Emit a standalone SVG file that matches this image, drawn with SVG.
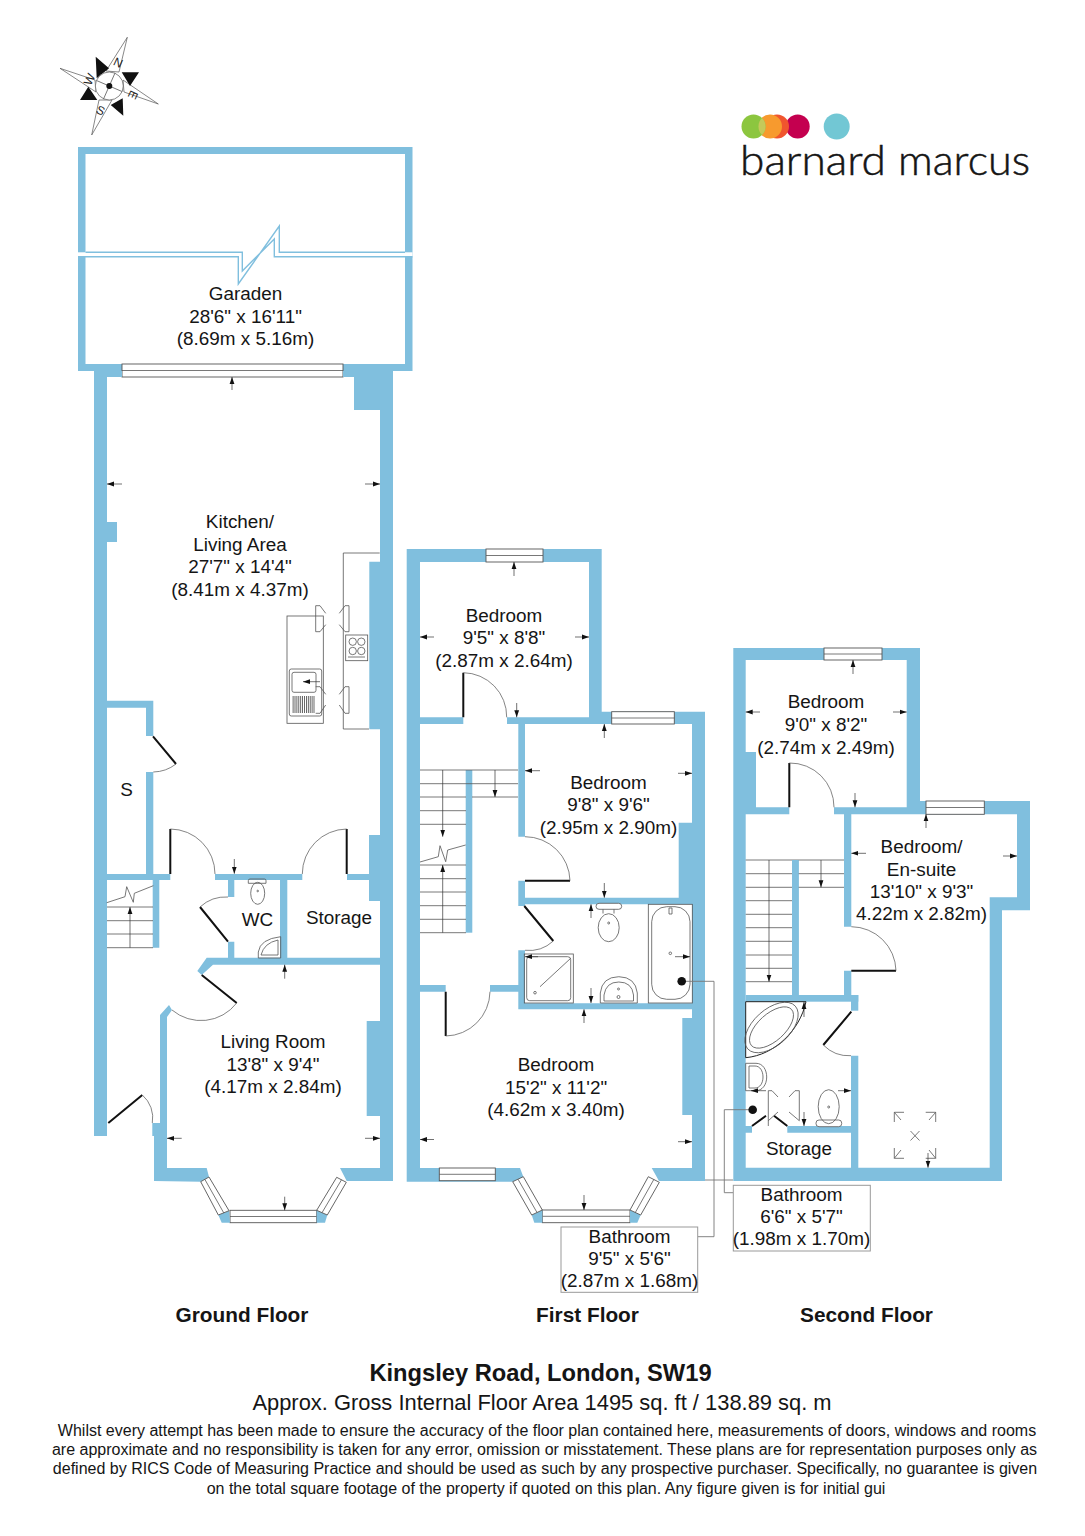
<svg xmlns="http://www.w3.org/2000/svg" width="1085" height="1536" viewBox="0 0 1085 1536">
<style>
.w{fill:#80bfde;stroke:none}
.b{fill:#fff;stroke:none}
.z{fill:none;stroke:#80bfde;stroke-width:1.4}
.win{fill:#fff;stroke:#555;stroke-width:.9}
.d{fill:none;stroke:#111;stroke-width:2}
.arc{fill:none;stroke:#666;stroke-width:.8}
.l{fill:none;stroke:#555;stroke-width:.8}
.lg{fill:none;stroke:#777;stroke-width:.9}
.fx{fill:#fff;stroke:#555;stroke-width:.8}
.a path{fill:none;stroke:#333;stroke-width:.7;marker-end:url(#ah)}
text{font-family:"Liberation Sans",Arial,sans-serif;fill:#151515;text-anchor:middle}
.t{font-size:18.9px}
.h{font-size:20.8px;font-weight:bold}
.f{font-size:16px}
.c{font-size:12px;fill:#222}
.lo{font-family:Lato,"Liberation Sans",sans-serif;font-size:41px;font-weight:300;stroke:#151515;stroke-width:.5;text-anchor:start}
</style>
<defs>
<marker id="ah" markerUnits="userSpaceOnUse" markerWidth="8" markerHeight="6" refX="7" refY="3" orient="auto"><path d="M0,0.6L7,3L0,5.4z" fill="#111"/></marker>
</defs>
<g id="compass">
<path d="M127.3,37.3L119,72L106,71zM158.3,104L124,92L123,80zM91.700,135L99,100L112,100zM60,68.300L95,80L96,92z" fill="#fff" stroke="#555" stroke-width=".7"/>
<path d="M95.700,56.700L109,68.300L96.700,78.300zM139,72.300L121.700,72.300L130,86zM123.300,115.700L110.700,105L122.700,98.300zM80,100L97.300,100L88.300,86.700z" fill="#111"/>
<circle cx="109.300" cy="86" r="14" fill="#fff" stroke="#555" stroke-width=".7"/>
<path d="M115,73L103.500,99M96.500,80.500L122,91.500" class="l"/>
<circle cx="109.300" cy="86" r="3" fill="#111"/>
<text class="c" transform="translate(118.300,62.300) rotate(25)" y="4.500">N</text>
<text class="c" transform="translate(133.300,95) rotate(115)" y="4.500">E</text>
<text class="c" transform="translate(100.700,110) rotate(25)" y="4.500">S</text>
<text class="c" transform="translate(89,79.300) rotate(295)" y="4.500">W</text>
</g>
<g id="logo">
<circle cx="797.700" cy="126.500" r="12" fill="#c4004f"/>
<circle cx="777" cy="126.500" r="12" fill="#f0552e"/>
<circle cx="770" cy="126.500" r="12" fill="#f79a2e"/>
<circle cx="753.500" cy="126.500" r="12" fill="#8cc63f"/>
<path d="M762,118a12,12 0 0 1 0,17a12,12 0 0 1 0,-17z" fill="#c5c95a"/>
<circle cx="836.700" cy="126.500" r="13" fill="#72c7d4"/>
<text class="lo" x="740" y="175" textLength="146" lengthAdjust="spacingAndGlyphs">barnard</text>
<text class="lo" x="898" y="175" textLength="132" lengthAdjust="spacingAndGlyphs">marcus</text>
</g>
<g id="garden">
<rect class="w" x="78" y="147" width="334.500" height="224"/>
<rect class="b" x="85.500" y="154" width="319.500" height="210"/>
<rect class="b" x="78" y="252.300" width="334.500" height="4.400"/>
<path class="z" d="M85.500,252.300H242.300V271L274.300,239V256.700H412.500M78,256.700H238.300V284L279.300,226V252.300H405"/>
<rect class="win" x="122" y="364" width="221" height="13"/><path class="l" d="M122,370.500H343"/>
</g>
<g id="ground-floor">
<path class="w" d="M94,371H122V377H107V522H117V542H107V1136H94z"/>
<path class="w" d="M343,371H393V1181H346.700L340,1168H380V1116H366.700V1021H380V964.700H213L201.700,975L197.300,971L206.700,957.700H228V941.700H234.300V957.700H280V880H234.300V897H228V880H215V874H302.300V880H287.300V957.700H380V901H369V880H347V874H369V835H380V729.300H369.300V561.700H380V410H354V377H343z"/>
<path class="w" d="M107,700.700H153.300V736H146V707.700H107zM146,772H153.300V874H170.300V880H159.300V947.700H152.700V880H107V874H146z"/>
<path class="w" d="M160,1015L169,1005L172,1010L167,1017V1168H206.700L209,1177L200.700,1181.700L154,1181V1136H152.300V1123H160z"/>
<rect class="win" x="230" y="1210.300" width="86.700" height="12.400"/><path class="l" d="M230,1216.500H316.700"/>
<polygon class="w" points="218.300,1215 229,1210.700 230,1222.700 221.700,1222.700"/>
<polygon class="w" points="316.700,1210.300 327.300,1215 325,1222.700 316.700,1222.700"/>
<polygon class="win" points="200.700,1181.700 209,1177 229,1210.700 218.300,1215"/><path class="l" d="M204.800,1179.300L223.700,1212.800"/>
<polygon class="win" points="336.700,1177.300 346.300,1182.300 327.300,1215 316.700,1210.300"/><path class="l" d="M341.500,1179.800L322,1212.700"/>
<path class="d" d="M170.300,829V874M346.700,829V874M108.300,1123L142.300,1095M200,907L228,941.700M201.700,975L236.700,1003M153,736.300L176,764"/>
<path class="arc" d="M170.300,829A45,45 0 0 1 215,874M346.700,829A45,45 0 0 0 302.300,874M200,907A38,38 0 0 1 228,897M236.700,1003A45,45 0 0 1 172,1010M142.300,1095A30,30 0 0 1 152.300,1123M176,764A38,38 0 0 1 153.300,772"/>
<path class="l" d="M107,907H153M107,920.700H153M107,934H153M107,947.700H153M106.700,902.700L125,896.700L126.700,886.700L133.300,902.300L134.300,893.300L153.300,885.700"/>
<path class="l" d="M343.300,729V553H379.700M343.300,729H369"/>
<rect class="l" x="287" y="616" width="36.300" height="107.300"/>
<rect class="fx" x="289.300" y="669" width="32.400" height="47" rx="2"/>
<rect class="l" x="292" y="672.300" width="24" height="20" rx="2"/>
<path stroke="#444" stroke-width="17" stroke-dasharray="0.800 1.100" fill="none" d="M292.700,704.600H315"/>
<path class="l" d="M315.700,605.700V631.700M315.700,605.700H320L325.700,613.300M315.700,631.700H320L325.700,624.700M349,605.700V631.700M349,605.700H345L339.300,613.300M349,631.700H345L339.300,624.700M315.700,686.700H320L325.700,694.300M315.700,713.300H320L325.700,705M349,686.700V713.300M349,686.700H345L339.300,694.300M349,713.300H345L339.300,705"/>
<rect class="fx" x="345.700" y="635" width="22" height="25.700"/>
<g class="l"><circle cx="352.700" cy="641.700" r="3.700"/><circle cx="361.300" cy="641.700" r="3.700"/><circle cx="352.700" cy="651" r="3.700"/><circle cx="361.300" cy="651" r="3.700"/><path d="M348,657H365"/></g>
<path class="l" d="M248.300,880.700Q248.300,879 250,879H264.500Q266,879 266,880.700V883.300H248.300z"/><ellipse class="l" cx="257.700" cy="893.300" rx="7" ry="11"/><circle class="l" cx="257.700" cy="891" r=".8"/>
<path class="l" d="M258.300,958V952Q260,939 280.700,936.700V958zM261,955Q264,943 278,940V955z"/>
<g class="a">
<path d="M130,947.700V907"/><path d="M320,681.700H303"/>
<path d="M232,390V377"/><path d="M122,484H107"/><path d="M365,484H380"/><path d="M234.300,859V873.700"/><path d="M284.700,978.700V964.700"/><path d="M181.700,1138.300H167"/><path d="M365,1138.300H380"/><path d="M284.700,1196.700V1210.300"/>
</g>
</g>
<g id="first-floor">
<path class="w" d="M406.700,549H601.700V711.700H705V1181H659L651.700,1168H692V1115H682.300V1018H692V1009.300H518.300V991.700H490V985H518.300V950.300H525V1003.300H692V904.300H525V906H518.300V880.700H525V897.700H678.700V822.700H692V724H525V836.700H518.300V724H507V717.300H589V562H420V717.300H463.300V724H420V985H445.700V991.700H420V1168H520L523.300,1176.700L512.700,1181.700H406.700z"/>
<rect class="w" x="465.700" y="770" width="6.600" height="162.700"/>
<rect class="win" x="486" y="549" width="57" height="13"/><path class="l" d="M486,555.500H543"/>
<rect class="win" x="611.700" y="711.700" width="62.600" height="12.300"/><path class="l" d="M611.700,718H674.300"/>
<rect class="win" x="439.300" y="1168" width="56" height="12.700"/><path class="l" d="M439.300,1174.300H495.300"/>
<rect class="win" x="542.300" y="1210" width="87.700" height="12.700"/><path class="l" d="M542.300,1216.300H630"/>
<polygon class="w" points="531.700,1215 542.300,1210 542.300,1222.700 534.300,1222.700"/>
<polygon class="w" points="630,1210 640.700,1215 637.300,1222.700 630,1222.700"/>
<polygon class="win" points="512.700,1181.700 523.300,1176.700 542.300,1210 531.700,1215"/><path class="l" d="M518,1179.200L537,1212.500"/>
<polygon class="win" points="648.300,1176.700 659.300,1182.300 640.700,1215 630,1210"/><path class="l" d="M653.800,1179.500L635.300,1212.500"/>
<path class="d" d="M463.300,672.700V717.300M525,880.700H570M524.300,906L553.300,941M445.700,991.700V1036"/>
<path class="arc" d="M463.300,672.700A44,44 0 0 1 506.700,717.300M525,836.700A45,45 0 0 1 570,880.700M553.300,941A36,36 0 0 1 525,950.300M445.700,1036A45,45 0 0 0 490,991.700"/>
<path class="l" d="M420,770H518M420,783.700H518M472,797H518M420,797H466M420,810.700H466M420,824.300H466M420,865H466M420,878.700H466M420,892H466M420,905.700H466M420,919.300H466M420,932.700H466M420,862L438.300,856.700L440,845.700L445.700,861.700L447.700,850L465.700,845"/>
<rect class="l" x="648.300" y="904.300" width="44" height="98.700"/>
<rect class="l" x="651.700" y="906.700" width="38.300" height="92.600" rx="15"/>
<circle class="l" cx="670.300" cy="953.300" r="1.300"/><path class="l" d="M669,908H672V914H669z"/>
<rect class="fx" x="596" y="903.300" width="25.700" height="6" rx="3"/><ellipse class="l" cx="608.700" cy="927.700" rx="10.500" ry="14"/><path class="l" d="M603,909.300V913.500M614,909.300V913.500"/><circle class="l" cx="608.700" cy="923" r="1"/>
<rect class="l" x="524.300" y="954" width="49" height="49"/><rect class="l" x="526.700" y="956.700" width="44" height="44" rx="3"/><path class="l" d="M540,986.700L570.700,958.300"/><circle class="l" cx="535" cy="992.700" r="1.300"/>
<path class="l" d="M600.300,1003V993Q602,977 618.800,976.700Q635.500,977 637.300,993V1003zM604,1001V995Q606,982 618.800,982Q632,982 633.500,995V1001z"/><circle class="l" cx="618.500" cy="989" r="1"/><circle class="l" cx="618.500" cy="997" r="1.500"/>
<g class="a">
<path d="M442.700,770V836.700"/><path d="M442.700,932.700V865"/><path d="M495,770V797"/>
<path d="M514,576V562"/><path d="M434,637H420"/><path d="M575,637H589"/><path d="M516.700,703V717.300"/><path d="M604.300,738V724"/><path d="M540,770.700H525"/><path d="M678,773.300H692"/><path d="M604.300,883V897.700"/><path d="M591,918V904.300"/><path d="M591,988V1003"/><path d="M538,956.700H525"/><path d="M675,956.700H690"/><path d="M584,1023V1009.300"/><path d="M434,1139.500H420"/><path d="M678,1141.700H692"/><path d="M584,1195V1210"/>
</g>
</g>
<g id="second-floor">
<path class="w" d="M733.300,648H920V801H1030V910.300H1002V1181H733.300zM745.700,660V752H756V807.300H789.300V814.300H745.700V995H851.300V970.700H844V995H798.700V860H792V995H745.700V1126H752V1132.700H745.700V1167.700H851V1132.700H787.300V1126H851V1055.700H858.300V1167.700H989.700V897.300H1017V814.300H851.300V926.700H844V814.300H834V807.300H906.700V660z"/>
<path class="w" d="M851,995H858.300V1010.700H851z"/>
<rect class="w" x="745.700" y="995" width="112.600" height="6.700"/>
<rect class="win" x="824" y="648" width="58" height="12"/><path class="l" d="M824,654H882"/>
<rect class="win" x="926" y="801" width="58.300" height="13.300"/><path class="l" d="M926,807.500H984.300"/>
<path class="d" d="M789.300,763V807.300M851.300,970.700H896M851.300,1011.700L823.300,1045M752,1126L766,1115.700M787.300,1126L774,1115.700"/>
<path class="arc" d="M789.300,763A44,44 0 0 1 834,807.300M851.300,926.700A45,45 0 0 1 896,970.700M823.300,1045A36,36 0 0 0 851,1055.700"/>
<path class="l" d="M745.700,860H844M745.700,873.700H844M745.700,887.300H844M745.700,900.700H792M745.700,914.300H792M745.700,927.700H792M745.700,941.300H792M745.700,955H792M745.700,968.300H792M745.700,981.700H792"/>
<rect class="w" x="792" y="860" width="6.700" height="135"/>
<path stroke="#222" stroke-width="1" fill="none" d="M745.700,1057.700V1001.700H806C800,1030 775,1055 745.700,1057.700z"/>
<ellipse class="l" cx="771.500" cy="1027.500" rx="32" ry="18" transform="rotate(-42 771.500 1027.500)"/>
<ellipse class="l" cx="771.500" cy="1027.500" rx="27" ry="13.500" transform="rotate(-42 771.500 1027.500)"/>
<path class="l" d="M745.700,1063.300H756C763,1063.300 766.700,1070 766.700,1077C766.700,1085 762,1090.700 756,1090.700H745.700zM749,1066V1088H755C760,1088 763,1083 763,1077C763,1071 760,1066 755,1066z"/>
<path class="l" d="M768.300,1090.700V1126M768.300,1090.700H772L778,1097M799.300,1090.700V1120.700M799.300,1090.700H795L789,1097M768.300,1120.700L778,1112M799.300,1120.700L789,1112"/>
<rect class="fx" x="816" y="1120" width="25.700" height="6.700" rx="3"/><ellipse class="l" cx="828.700" cy="1106.700" rx="10.500" ry="17"/><circle class="l" cx="828.700" cy="1107" r="1"/>
<path class="l" d="M894.300,1122V1112.300H904M894.300,1112.300L901,1120M925.700,1112.300H935.700V1122M935.700,1112.300L929,1120M894.300,1148V1158.300H904M894.300,1158.300L901,1150M925.700,1158.300H935.700V1148M935.700,1158.300L929,1150M910.500,1131L919.500,1140.500M919.500,1131L910.500,1140.500"/>
<g class="a">
<path d="M769,860V981.700"/><path d="M821,860V887.300"/>
<path d="M853,674V660"/><path d="M760,712H745.700"/><path d="M893,712H906.700"/><path d="M855,793V807.300"/><path d="M926,828V814.300"/><path d="M866,853.300H851.300"/><path d="M1003,856H1017"/><path d="M804,1017V1002"/><path d="M766,1090.700H751"/><path d="M838,1090.700H851"/><path d="M804,1112V1126"/><path d="M928,1153V1167.700"/>
</g>
</g>
<g id="connectors">
<path class="lg" d="M681.700,981.300H714V1236.700H697.700M752.700,1109.700H724.300V1192.700H733.300M705,1180H733"/>
<circle cx="681.700" cy="981.300" r="4.300" fill="#111"/>
<circle cx="752.700" cy="1109.700" r="4.300" fill="#111"/>
</g>
<g id="labels">
<rect x="561" y="1227" width="136.700" height="65.300" fill="#fff" stroke="#999"/>
<rect x="733.300" y="1185.300" width="137" height="65.700" fill="#fff" stroke="#999"/>
<g class="t">
<text x="245.500" y="300">Garaden</text><text x="245.500" y="322.500">28'6" x 16'11"</text><text x="245.500" y="345">(8.69m x 5.16m)</text>
<text x="240" y="528">Kitchen/</text><text x="240" y="550.500">Living Area</text><text x="240" y="573">27'7" x 14'4"</text><text x="240" y="595.500">(8.41m x 4.37m)</text>
<text x="126.500" y="796">S</text><text x="257.500" y="926">WC</text><text x="339" y="924">Storage</text>
<text x="273" y="1048.300">Living Room</text><text x="273" y="1070.700">13'8" x 9'4"</text><text x="273" y="1093.300">(4.17m x 2.84m)</text>
<text x="504" y="621.500">Bedroom</text><text x="504" y="644">9'5" x 8'8"</text><text x="504" y="667">(2.87m x 2.64m)</text>
<text x="608.500" y="789">Bedroom</text><text x="608.500" y="811">9'8" x 9'6"</text><text x="608.500" y="833.500">(2.95m x 2.90m)</text>
<text x="556" y="1071">Bedroom</text><text x="556" y="1093.500">15'2" x 11'2"</text><text x="556" y="1116">(4.62m x 3.40m)</text>
<text x="826" y="708">Bedroom</text><text x="826" y="730.500">9'0" x 8'2"</text><text x="826" y="753.500">(2.74m x 2.49m)</text>
<text x="921.500" y="853.300">Bedroom/</text><text x="921.500" y="875.700">En-suite</text><text x="921.500" y="897.700">13'10" x 9'3"</text><text x="921.500" y="920">4.22m x 2.82m)</text>
<text x="799" y="1155">Storage</text>
<text x="629.500" y="1243.300">Bathroom</text><text x="629.500" y="1265">9'5" x 5'6"</text><text x="629.500" y="1287">(2.87m x 1.68m)</text>
<text x="801.500" y="1201">Bathroom</text><text x="801.500" y="1223">6'6" x 5'7"</text><text x="801.500" y="1245">(1.98m x 1.70m)</text>
</g>
<g class="h">
<text x="242" y="1322">Ground Floor</text><text x="587.500" y="1322">First Floor</text><text x="866.500" y="1322">Second Floor</text>
<text x="540.500" y="1381" style="font-size:23.700px">Kingsley Road, London, SW19</text>
</g>
<text x="542" y="1410" style="font-size:21.900px">Approx. Gross Internal Floor Area 1495 sq. ft / 138.89 sq. m</text>
<g class="f">
<text x="547" y="1436">Whilst every attempt has been made to ensure the accuracy of the floor plan contained here, measurements of doors, windows and rooms</text>
<text x="544.500" y="1455">are approximate and no responsibility is taken for any error, omission or misstatement. These plans are for representation purposes only as</text>
<text x="545" y="1474">defined by RICS Code of Measuring Practice and should be used as such by any prospective purchaser. Specifically, no guarantee is given</text>
<text x="546" y="1494">on the total square footage of the property if quoted on this plan. Any figure given is for initial gui</text>
</g>
</g>
</svg>
